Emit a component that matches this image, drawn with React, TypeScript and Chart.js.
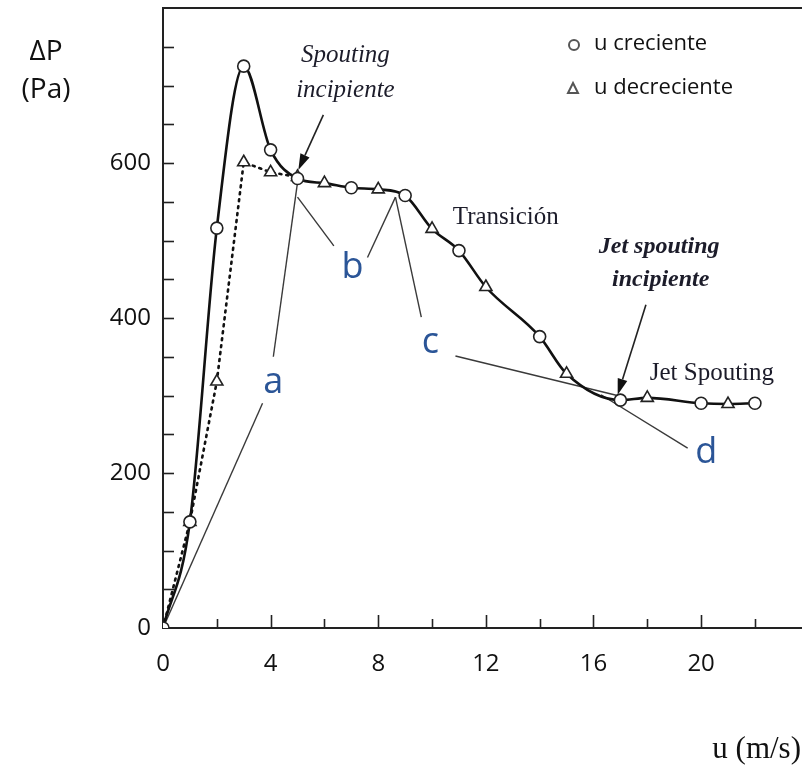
import React, { useEffect, useRef } from "react";
import { Chart, registerables } from "chart.js";

Chart.register(...registerables);

// ---- data ----
const uCreciente = [0, 1, 2, 3, 4, 5, 7, 9, 11, 14, 17, 20, 22];
const dpCreciente = [0, 137, 516, 725, 617, 580, 568, 558, 487, 376, 294, 290, 290];
const uDecreciente = [0, 1, 2, 3, 4, 5, 6, 8, 10, 12, 15, 18, 21];
const dpDecreciente = [0, 137, 318, 601, 588, 582, 574, 566, 515, 440, 328, 297, 289];

const xTickValues = [0, 2, 4, 6, 8, 10, 12, 14, 16, 18, 20, 22];
const yTickValues = [0, 50, 100, 150, 200, 250, 300, 350, 400, 450, 500, 550, 600, 650, 700, 750, 800];

// tangent / guide lines [u, dP]
const lineA1 = [[0, 0], [3.7, 290]];
const lineA2 = [[4.1, 350], [5.0, 575]];
const lineB1 = [[5.0, 556], [6.35, 493]];
const lineB2 = [[7.6, 478], [8.64, 556]];
const lineC1 = [[8.64, 556], [9.6, 401]];
const lineC2 = [[10.87, 351], [17.0, 299]];
const lineD = [[16.28, 301], [19.5, 232]];

// annotation positions [u, dP]
const labelLetters = ["a", "b", "c", "d"];
const labelLetterPos = [[4.1, 316], [7.04, 465], [9.94, 368], [20.19, 226]];
const arrowSpouting = [[5.96, 662], [5.03, 591]];
const arrowJet = [[17.95, 417], [16.9, 301]];

function App() {
  const ref = useRef<HTMLCanvasElement | null>(null);

  useEffect(() => {
    const canvas = ref.current;
    if (!canvas) return;

    const circlePts = uCreciente.map((u, i) => ({ x: u, y: dpCreciente[i] }));
    const triPts = uDecreciente.map((u, i) => ({ x: u, y: dpDecreciente[i] }));

    // solid curve: increasing series before u=5, merged series from u=5 on
    const solid: { x: number; y: number }[] = [];
    circlePts.forEach((p) => { if (p.x < 5) solid.push(p); });
    const merged: { x: number; y: number }[] = [];
    circlePts.forEach((p) => { if (p.x >= 5) merged.push(p); });
    triPts.forEach((p) => { if (p.x > 5 && !merged.some((m) => m.x === p.x)) merged.push(p); });
    merged.sort((a, b) => a.x - b.x);
    merged.forEach((p) => solid.push(p));

    const dotted = triPts.filter((p) => p.x <= 5);

    const guide = (arr: number[][]) => ({
      type: "line" as const,
      data: arr.map((p) => ({ x: p[0], y: p[1] })),
      borderColor: "#3a3a3a",
      borderWidth: 1.4,
      pointRadius: 0,
      fill: false,
      tension: 0,
      order: 5,
    });

    const annot = {
      id: "annot",
      afterDraw(chart: any) {
        const ctx = chart.ctx as CanvasRenderingContext2D;
        const xs = chart.scales.x;
        const ys = chart.scales.y;
        const ca = chart.chartArea;
        const px = (v: number) => xs.getPixelForValue(v);
        const py = (v: number) => ys.getPixelForValue(v);
        ctx.save();
        // top frame line
        ctx.strokeStyle = "#222";
        ctx.lineWidth = 2;
        ctx.beginPath();
        ctx.moveTo(ca.left, ca.top);
        ctx.lineTo(ca.right, ca.top);
        ctx.stroke();
        // inward ticks
        ctx.lineWidth = 1.6;
        xTickValues.forEach((v) => {
          if (v === 0) return;
          const len = v % 4 === 0 ? 13 : 9;
          const x = Math.round(px(v)) + 0.5;
          ctx.beginPath();
          ctx.moveTo(x, ca.bottom);
          ctx.lineTo(x, ca.bottom - len);
          ctx.stroke();
        });
        yTickValues.forEach((v) => {
          if (v === 0 || v === 800) return;
          const y = Math.round(py(v)) + 0.5;
          ctx.beginPath();
          ctx.moveTo(ca.left, y);
          ctx.lineTo(ca.left + 11, y);
          ctx.stroke();
        });

        // axis titles
        ctx.fillStyle = "#111";
        ctx.textAlign = "center";
        ctx.textBaseline = "middle";
        ctx.font = "28px 'Open Sans'";
        ctx.fillText("\u0394P", 46, 52);
        ctx.fillText("(Pa)", 46, 90);
        ctx.font = "31px 'Liberation Serif'";
        ctx.textAlign = "right";
        ctx.fillText("u (m/s)", 801, 750);

        // legend
        ctx.strokeStyle = "#555";
        ctx.lineWidth = 2;
        ctx.beginPath();
        ctx.arc(574, 45, 5, 0, Math.PI * 2);
        ctx.stroke();
        ctx.beginPath();
        ctx.moveTo(573, 83);
        ctx.lineTo(578, 93);
        ctx.lineTo(568, 93);
        ctx.closePath();
        ctx.stroke();
        ctx.fillStyle = "#111";
        ctx.textAlign = "left";
        ctx.font = "22px 'Open Sans'";
        ctx.fillText("u creciente", 594, 44);
        ctx.fillText("u decreciente", 594, 88);

        // serif annotations
        ctx.textAlign = "center";
        ctx.fillStyle = "#1c1c2a";
        ctx.font = "italic 25px 'Liberation Serif'";
        ctx.fillText("Spouting", px(6.78), py(739));
        ctx.fillText("incipiente", px(6.78), py(694));
        ctx.font = "italic bold 24px 'Liberation Serif'";
        ctx.fillText("Jet spouting", px(18.44), py(492));
        ctx.fillText("incipiente", px(18.5), py(449));
        ctx.font = "25px 'Liberation Serif'";
        ctx.fillText("Transici\u00f3n", px(12.74), py(530));
        ctx.fillText("Jet Spouting", px(20.4), py(329));

        // letter labels
        ctx.fillStyle = "#2b5597";
        ctx.font = "36px 'Open Sans'";
        labelLetters.forEach((t, i) => {
          ctx.fillText(t, px(labelLetterPos[i][0]), py(labelLetterPos[i][1]));
        });

        // arrows
        const arrow = (a: number[][]) => {
          const x1 = px(a[0][0]), y1 = py(a[0][1]);
          const x2 = px(a[1][0]), y2 = py(a[1][1]);
          const ang = Math.atan2(y2 - y1, x2 - x1);
          const hl = 16, hw = 5;
          ctx.strokeStyle = "#222";
          ctx.fillStyle = "#111";
          ctx.lineWidth = 1.6;
          ctx.beginPath();
          ctx.moveTo(x1, y1);
          ctx.lineTo(x2 - Math.cos(ang) * hl, y2 - Math.sin(ang) * hl);
          ctx.stroke();
          ctx.beginPath();
          ctx.moveTo(x2, y2);
          ctx.lineTo(x2 - Math.cos(ang) * hl - Math.sin(ang) * hw, y2 - Math.sin(ang) * hl + Math.cos(ang) * hw);
          ctx.lineTo(x2 - Math.cos(ang) * hl + Math.sin(ang) * hw, y2 - Math.sin(ang) * hl - Math.cos(ang) * hw);
          ctx.closePath();
          ctx.fill();
        };
        arrow(arrowSpouting);
        arrow(arrowJet);
        ctx.restore();
      },
    };

    const chart = new Chart(canvas, {
      type: "line",
      data: {
        datasets: [
          {
            label: "u creciente",
            data: circlePts,
            showLine: false,
            pointStyle: "circle",
            pointRadius: 6,
            pointBackgroundColor: "#ffffff",
            pointBorderColor: "#222",
            pointBorderWidth: 1.6,
            order: 0,
          },
          {
            label: "u decreciente",
            data: triPts,
            showLine: false,
            pointStyle: "triangle",
            pointRadius: 7,
            pointBackgroundColor: "#ffffff",
            pointBorderColor: "#222",
            pointBorderWidth: 1.6,
            order: 0,
          },
          {
            label: "solid",
            data: solid,
            borderColor: "#111",
            borderWidth: 2.6,
            pointRadius: 0,
            cubicInterpolationMode: "monotone",
            fill: false,
            order: 2,
          },
          {
            label: "dotted",
            data: dotted,
            borderColor: "#111",
            borderWidth: 2.6,
            borderDash: [2, 5],
            borderCapStyle: "round",
            pointRadius: 0,
            tension: 0,
            fill: false,
            order: 3,
          },
          guide(lineA1),
          guide(lineA2),
          guide(lineB1),
          guide(lineB2),
          guide(lineC1),
          guide(lineC2),
          guide(lineD),
        ] as any,
      },
      options: {
        animation: false,
        responsive: false,
        maintainAspectRatio: false,
        devicePixelRatio: 1,
        layout: { autoPadding: false, padding: { top: 8, right: 0, left: 0, bottom: 0 } },
        plugins: { legend: { display: false }, tooltip: { enabled: false } },
        scales: {
          x: {
            type: "linear",
            min: 0,
            max: 23.75,
            afterFit: (s: any) => { s.height = 150; s.paddingLeft = 0; s.paddingRight = 0; },
            afterBuildTicks: (s: any) => { s.ticks = xTickValues.map((v) => ({ value: v })); },
            ticks: {
              callback: (v: any) => (Number(v) % 4 === 0 ? String(v) : ""),
              font: { family: "'Open Sans'", size: 24 },
              color: "#111",
              padding: 22,
              maxRotation: 0,
              autoSkip: false,
            },
            grid: { drawOnChartArea: false, drawTicks: false },
            border: { color: "#222", width: 2 },
          },
          y: {
            type: "linear",
            min: 0,
            max: 800,
            afterFit: (s: any) => { s.width = 163; s.paddingTop = 0; s.paddingBottom = 0; },
            afterBuildTicks: (s: any) => { s.ticks = yTickValues.map((v) => ({ value: v })); },
            ticks: {
              callback: (v: any) => (Number(v) % 200 === 0 && Number(v) < 800 ? String(v) : ""),
              font: { family: "'Open Sans'", size: 24 },
              color: "#111",
              padding: 12,
              autoSkip: false,
            },
            grid: { drawOnChartArea: false, drawTicks: false },
            border: { color: "#222", width: 2 },
          },
        },
      } as any,
      plugins: [annot],
    });

    return () => chart.destroy();
  }, []);

  return (
    <div style={{ position: "absolute", left: 0, top: 0, width: 802, height: 778, background: "#fff" }}>
      <canvas ref={ref} width={802} height={778} style={{ width: 802, height: 778, display: "block" }} />
    </div>
  );
}

export default App;
